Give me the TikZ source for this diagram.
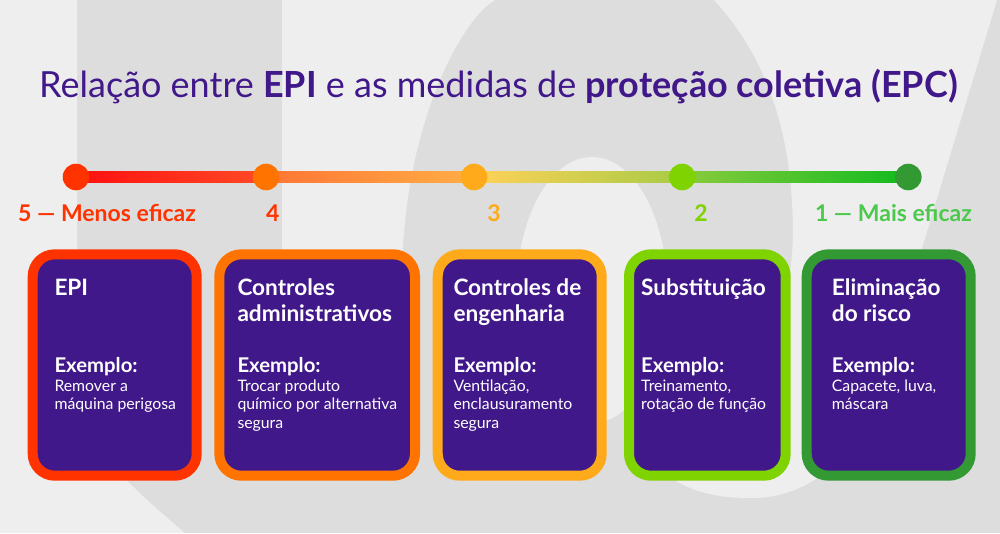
\documentclass[tikz,border=0pt]{standalone}
\usepackage{fontspec}
\setmainfont{Lato}
\usetikzlibrary{positioning, calc, backgrounds}
\definecolor{cPurple}{HTML}{41188A}
\definecolor{cBgLight}{HTML}{EEEEEE}
\definecolor{cBgDark}{HTML}{DDDDDD}
\definecolor{cRed}{HTML}{FF3300}
\definecolor{cOrange}{HTML}{FF7300}
\definecolor{cAmber}{HTML}{FFAA1A}
\definecolor{cLime}{HTML}{7ED300}
\definecolor{cGreen}{HTML}{339933}
\definecolor{cGreenTxt}{HTML}{4CC94C}
% stops of the bar
\definecolor{sA}{HTML}{FF1010}
\definecolor{sB}{HTML}{FF4A25}
\definecolor{sC}{HTML}{FF7535}
\definecolor{sD}{HTML}{FFAE45}
\definecolor{sE}{HTML}{FFD258}
\definecolor{sF}{HTML}{A8CB45}
\definecolor{sG}{HTML}{8ACB3C}
\definecolor{sH}{HTML}{10BB1E}
\newcommand{\exemplo}{{\fontsize{20.3}{18.7}\selectfont\bfseries Exemplo:}}

\begin{document}
\begin{tikzpicture}[x=1pt, y=-1pt,
    dotnode/.style={circle, minimum size=26.6pt, inner sep=0pt},
    lvlabel/.style={font=\fontsize{23}{26}\selectfont\bfseries, inner sep=0pt},
    cardbox/.style={draw=#1, line width=10pt, fill=cPurple, rounded corners=22pt,
      minimum height=221.4pt, inner sep=0pt},
    cardhead/.style={text=white, font=\fontsize{22.6}{26}\selectfont\bfseries,
      align=left, inner sep=0pt, anchor=base west},
    cardbody/.style={text=white, font=\fontsize{15.8}{18.7}\selectfont,
      align=left, inner sep=0pt, anchor=base west}]
  \useasboundingbox (0,0) rectangle (1000,533);

  % watermark in the back
  \begin{scope}[on background layer]
    \fill[cBgDark] (0,0) rectangle (1000,533);
    \fill[cBgLight] (0,0) -- (77,0) -- (77,400) .. controls (77,430) and (110,470) .. (185,533) -- (0,533) -- cycle;
    \fill[cBgLight] (282,0) -- (495,0) .. controls (460,20) and (402,130) .. (402,280) -- (402,330)
      .. controls (402,380) and (282,380) .. (282,330) -- cycle;
    \fill[cBgLight] (592,290) ellipse [x radius=75, y radius=133];
    \fill[cBgLight] (714,0) .. controls (760,50) and (792,120) .. (793,230)
      .. controls (793,330) and (740,430) .. (676,481)
      .. controls (700,495) and (725,498) .. (752,498)
      .. controls (800,498) and (840,470) .. (870,420) -- (997,0) -- cycle;
  \end{scope}

  % title
  \node[text=cPurple, font=\fontsize{36}{40}\selectfont, anchor=base, inner sep=0pt] (title) at (498.5,97)
    {Relação entre \textbf{EPI} e as medidas de \textbf{proteção coletiva (EPC)}};

  % scale of effectiveness
  \node[dotnode, fill=cRed] (d1) at (76,177) {};
  \node[dotnode, fill=cOrange, right=163.1pt of d1] (d2) {};
  \node[dotnode, fill=cAmber, right=181pt of d2] (d3) {};
  \node[dotnode, fill=cLime, right=181.1pt of d3] (d4) {};
  \node[dotnode, fill=cGreen, right=199.1pt of d4] (d5) {};
  \begin{scope}[on background layer]
    \shade[left color=sA, right color=sB] ($(d1.center)+(0,-5.5)$) rectangle ($(d2.center)+(0,5.5)$);
    \shade[left color=sC, right color=sD] ($(d2.center)+(0,-5.5)$) rectangle ($(d3.center)+(0,5.5)$);
    \shade[left color=sE, right color=sF] ($(d3.center)+(0,-5.5)$) rectangle ($(d4.center)+(0,5.5)$);
    \shade[left color=sG, right color=sH] ($(d4.center)+(0,-5.5)$) rectangle ($(d5.center)+(0,5.5)$);
  \end{scope}

  \node[lvlabel, text=cRed, anchor=base west] (l5) at (18,221) {5 — Menos eficaz};
  \node[lvlabel, text=cRed, anchor=base] (l4) at (272.8,221) {4};
  \node[lvlabel, text=cAmber, anchor=base] (l3) at (494,221) {3};
  \node[lvlabel, text=cLime, anchor=base] (l2) at (701,221) {2};
  \node[lvlabel, text=cGreenTxt, anchor=base east] (l1) at (972,221) {1 — Mais eficaz};

  % cards
  \node[cardbox=cRed, minimum width=164pt] (c1) at (114.7,365) {};
  \node[cardbox=cOrange, minimum width=195.7pt, right=12.6pt of c1] (c2) {};
  \node[cardbox=cAmber, minimum width=164pt, right=12.7pt of c2] (c3) {};
  \node[cardbox=cLime, minimum width=156.7pt, right=17.3pt of c3] (c4) {};
  \node[cardbox=cGreen, minimum width=164pt, right=11pt of c4] (c5) {};

  % base of a text node = base of its last line
  \node[cardhead] (h1) at ($(c1.north west)+(26.6,45.7)$) {EPI};
  \node[cardbody] (b1) at ($(c1.north west)+(26.6,160.4)$) {\exemplo\\Remover a\\máquina perigosa};
  \node[cardhead] (h2) at ($(c2.north west)+(23,71.7)$) {Controles\\administrativos};
  \node[cardbody] (b2) at ($(c2.north west)+(23,179.1)$) {\exemplo\\Trocar produto\\químico por alternativa\\segura};
  \node[cardhead] (h3) at ($(c3.north west)+(20.6,71.7)$) {Controles de\\engenharia};
  \node[cardbody] (b3) at ($(c3.north west)+(20.6,179.1)$) {\exemplo\\Ventilação,\\enclausuramento\\segura};
  \node[cardhead] (h4) at ($(c4.north west)+(17,45.7)$) {Substituição};
  \node[cardbody] (b4) at ($(c4.north west)+(17,160.4)$) {\exemplo\\Treinamento,\\rotação de função};
  \node[cardhead] (h5) at ($(c5.north west)+(30,71.7)$) {Eliminação\\do risco};
  \node[cardbody] (b5) at ($(c5.north west)+(30,160.4)$) {\exemplo\\Capacete, luva,\\máscara};
\end{tikzpicture}
\end{document}
